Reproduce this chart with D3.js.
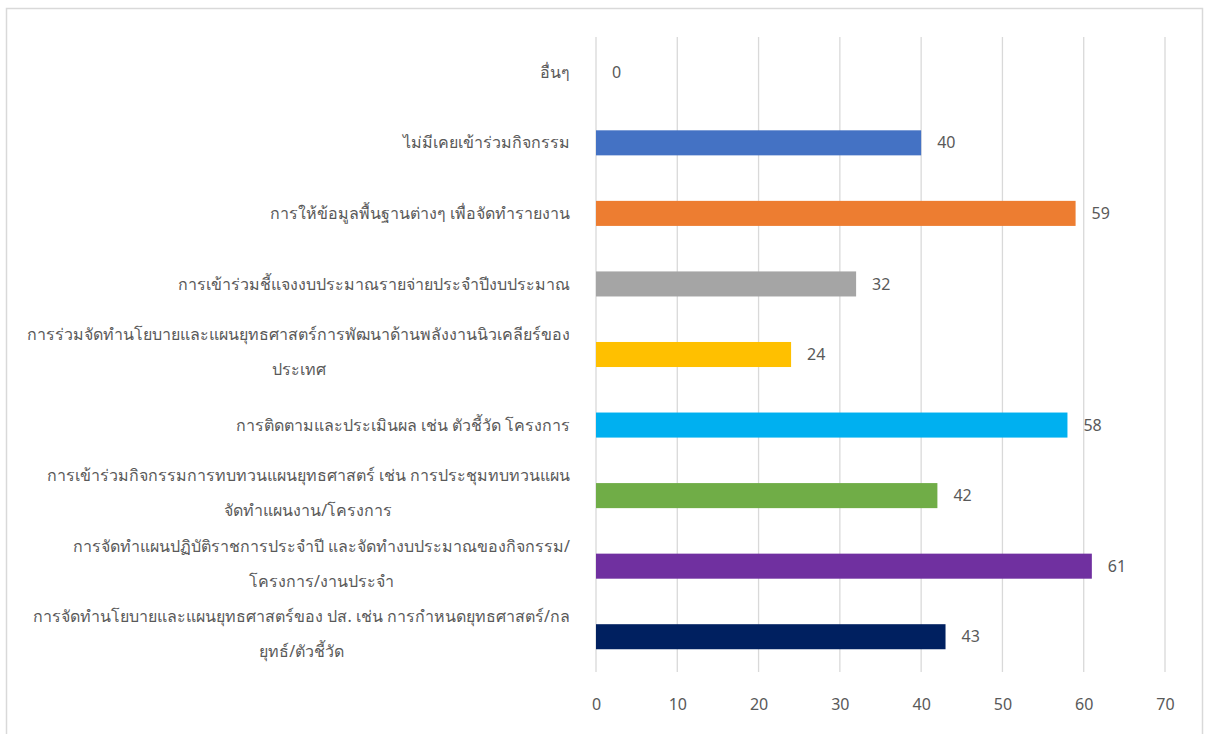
<!DOCTYPE html>
<html>
<head>
<meta charset="utf-8">
<script src="https://cdn.jsdelivr.net/npm/d3@7/dist/d3.min.js"></script>
<style>
  html, body { margin: 0; padding: 0; background: #fff; }
  svg { display: block; }
  text { font-family: "Noto Sans", "DejaVu Sans", sans-serif; fill: #595959; }
</style>
</head>
<body>
<svg id="chart" width="1209" height="734"></svg>
<script>
// Category labels, top to bottom; each entry is the list of its wrapped lines
const categories = [
  ["อื่นๆ"],
  ["ไม่มีเคยเข้าร่วมกิจกรรม"],
  ["การให้ข้อมูลพื้นฐานต่างๆ เพื่อจัดทำรายงาน"],
  ["การเข้าร่วมชี้แจงงบประมาณรายจ่ายประจำปีงบประมาณ"],
  ["การร่วมจัดทำนโยบายและแผนยุทธศาสตร์การพัฒนาด้านพลังงานนิวเคลียร์ของ", "ประเทศ"],
  ["การติดตามและประเมินผล เช่น ตัวชี้วัด โครงการ"],
  ["การเข้าร่วมกิจกรรมการทบทวนแผนยุทธศาสตร์ เช่น การประชุมทบทวนแผน", "จัดทำแผนงาน/โครงการ"],
  ["การจัดทำแผนปฏิบัติราชการประจำปี และจัดทำงบประมาณของกิจกรรม/", "โครงการ/งานประจำ"],
  ["การจัดทำนโยบายและแผนยุทธศาสตร์ของ ปส. เช่น การกำหนดยุทธศาสตร์/กล", "ยุทธ์/ตัวชี้วัด"]
];
const values = [0, 40, 59, 32, 24, 58, 42, 61, 43];
const barColors = ["#A5A5A5", "#4472C4", "#ED7D31", "#A5A5A5", "#FFC000", "#00B0F0", "#70AD47", "#7030A0", "#002060"];
const xTicks = [0, 10, 20, 30, 40, 50, 60, 70];

const svg = d3.select("#chart");
const W = 1209, H = 734;

svg.append("rect").attr("width", W).attr("height", H).attr("fill", "#fff");
// chart frame
svg.append("rect")
  .attr("x", 6.5).attr("y", 8.5).attr("width", 1196).attr("height", 760)
  .attr("fill", "none").attr("stroke", "#D9D9D9").attr("stroke-width", 1.5);

const plot = { left: 596, right: 1165, top: 37, bottom: 672 };

const x = d3.scaleLinear().domain([0, 70]).range([plot.left, plot.right]);
const idx = d3.range(categories.length);
const y = d3.scaleBand().domain(idx).range([plot.top, plot.bottom])
  .paddingInner(0.645).paddingOuter(0.3225);

// vertical gridlines
svg.append("g").selectAll("line").data(xTicks).join("line")
  .attr("x1", d => x(d)).attr("x2", d => x(d))
  .attr("y1", plot.top).attr("y2", plot.bottom)
  .attr("stroke", "#D9D9D9").attr("stroke-width", 1.3);

// x tick labels
const xAxis = d3.axisBottom(x).tickValues(xTicks).tickSize(0).tickPadding(0);
const gx = svg.append("g").attr("transform", `translate(0,${plot.bottom})`).call(xAxis);
gx.select(".domain").remove();
gx.selectAll("text")
  .attr("y", 32).attr("dy", "0.35em")
  .style("font-size", "16px").attr("fill", "#595959");

// bars
svg.append("g").selectAll("rect").data(idx).join("rect")
  .attr("x", x(0)).attr("y", i => y(i))
  .attr("width", i => x(values[i]) - x(0))
  .attr("height", y.bandwidth())
  .attr("fill", i => barColors[i]);

// value labels
svg.append("g").selectAll("text").data(idx).join("text")
  .attr("x", i => x(values[i]) + 16)
  .attr("y", i => y(i) + y.bandwidth() / 2)
  .attr("dy", "0.35em")
  .style("font-size", "16px")
  .text(i => values[i]);

// category labels (right-aligned block, wrapped lines centred on the first)
const labelRight = 570;
const lineGap = 35;
const gl = svg.append("g");
idx.forEach(i => {
  const lines = categories[i];
  const cy = y(i) + y.bandwidth() / 2;
  if (lines.length === 1) {
    gl.append("text").attr("x", labelRight).attr("y", cy).attr("dy", "0.35em")
      .attr("text-anchor", "end").style("font-size", "16px").text(lines[0]);
  } else {
    const first = gl.append("text").attr("x", labelRight).attr("y", cy - 20).attr("dy", "0.35em")
      .attr("text-anchor", "end").style("font-size", "16px").text(lines[0]);
    const w = first.node().getComputedTextLength();
    gl.append("text").attr("x", labelRight - w / 2).attr("y", cy - 20 + lineGap).attr("dy", "0.35em")
      .attr("text-anchor", "middle").style("font-size", "16px").text(lines[1]);
  }
});
</script>
</body>
</html>
